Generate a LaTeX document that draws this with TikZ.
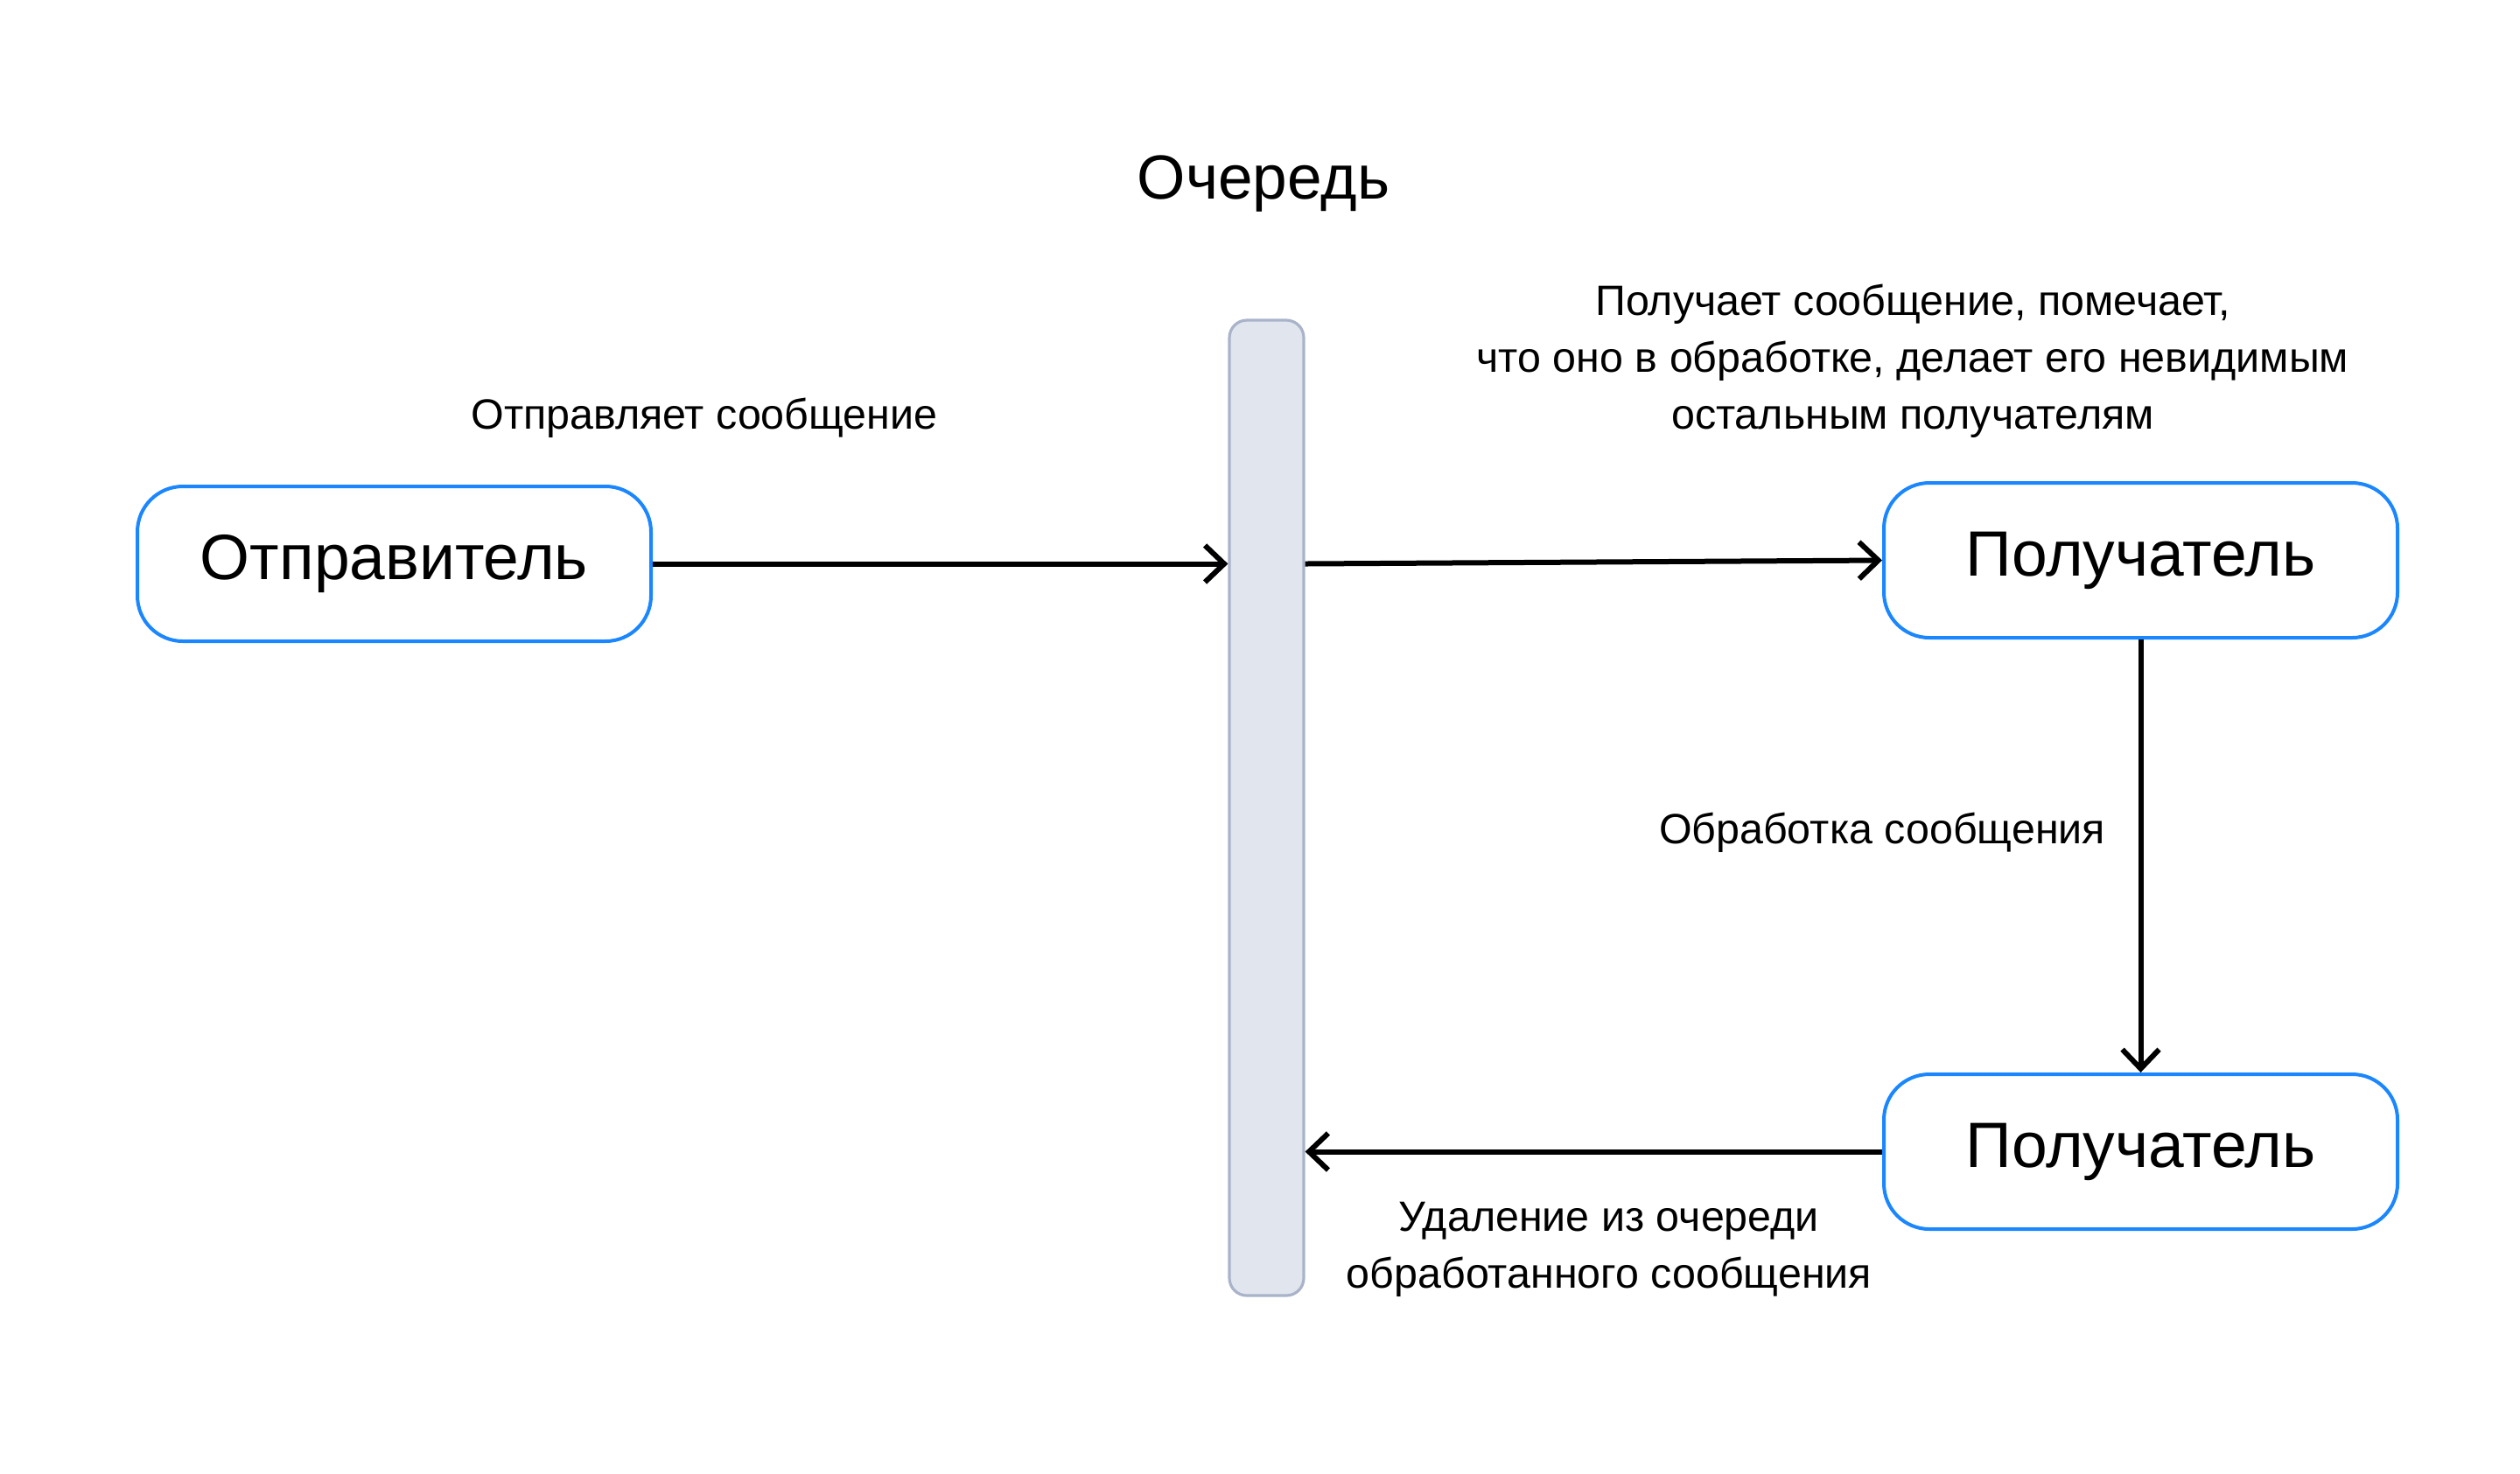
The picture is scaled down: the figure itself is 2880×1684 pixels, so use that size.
\documentclass[tikz,border=0pt]{standalone}
\usepackage{fontspec}
\setmainfont{Liberation Sans}
\usetikzlibrary{
  arrows.meta,
  positioning
}
\definecolor{boxblue}{HTML}{1A86FF}
\definecolor{barfill}{HTML}{E1E5ED}
\definecolor{barline}{HTML}{A9B3C9}

\begin{document}
\begin{tikzpicture}[
  x=0.25pt, y=-0.25pt,
  every node/.style = {align=center, inner sep=0pt},
  box/.style = {shape=rectangle, rounded corners=13pt, draw=boxblue,
    line width=1pt, fill=white,
    minimum width=146.75pt, minimum height=44.25pt,
    font=\fontsize{18.3}{22}\selectfont},
  lbl/.style = {font=\fontsize{12.1}{16.25}\selectfont},
  arr/.style = {-{Straight Barb[length=5.5pt,width=10.5pt]}, line width=1.5pt}]
  \useasboundingbox (0,0) rectangle (2880,1684);
  \node[font=\fontsize{17.8}{22}\selectfont] (title) at (1444,210) {Очередь};
  \node[shape=rectangle, rounded corners=5pt, draw=barline, fill=barfill,
    line width=0.8pt, minimum width=21.25pt, minimum height=278.75pt]
    (queue) at (1447.5,923.5) {};
  \node[box] (snd) at (450.5,644.5) {Отправитель};
  \node[box] (rcv1) at (2446.5,640.5) {Получатель};
  \node[box] (rcv2) at (2446.5,1316.5) {Получатель};
  \node[lbl] (lsnd) at (805,478) {Отправляет сообщение};
  \node[lbl] (lget) at (2186,413) {Получает сообщение, помечает,\\что оно в обработке, делает его невидимым\\остальным получателям};
  \node[lbl] (lproc) at (2151,952) {Обработка сообщения};
  \node[lbl] (ldel) at (1839,1428) {Удаление из очереди\\обработанного сообщения};
  \draw[arr] (snd.east) -- (snd.east -| queue.west);
  \draw[arr] (queue.east |- snd.east) -- (rcv1.west);
  \draw[arr] (rcv1.south) -- (rcv2.north);
  \draw[arr] (rcv2.west) -- (rcv2.west -| queue.east);
\end{tikzpicture}
\end{document}
